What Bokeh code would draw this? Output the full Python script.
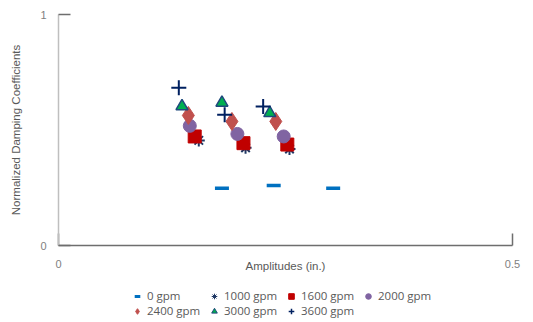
from bokeh.plotting import figure
from bokeh.layouts import column
from bokeh.models import Range1d, FixedTicker, Legend, LegendItem
from bokeh.embed import file_html
from bokeh.resources import INLINE

# Data
amp_0 = [0.180, 0.237, 0.3025]
coef_0 = [0.248, 0.260, 0.248]
amp_1000 = [0.1545, 0.206, 0.2544]
coef_1000 = [0.455, 0.423, 0.418]
amp_1600 = [0.150, 0.2037, 0.252]
coef_1600 = [0.472, 0.443, 0.437]
amp_2000 = [0.1446, 0.197, 0.248]
coef_2000 = [0.518, 0.483, 0.472]
amp_2400 = [0.143, 0.191, 0.2393]
coef_2400 = [0.563, 0.537, 0.537]
amp_3000 = [0.136, 0.180, 0.2327]
coef_3000 = [0.603, 0.618, 0.573]
amp_3600 = [0.1325, 0.183, 0.2254]
coef_3600 = [0.683, 0.566, 0.602]

series_names = ["0 gpm", "1000 gpm", "1600 gpm", "2000 gpm", "2400 gpm", "3000 gpm", "3600 gpm"]
x_ticks = [0, 0.5]
y_ticks = [0, 1]

styles = [
    dict(marker="dash", size=14, line_color="#0070C0", line_width=3.5),
    dict(marker="asterisk", size=12, line_color="#1F3864", line_width=2),
    dict(marker="square", size=13, fill_color="#C00000", line_color="#C00000"),
    dict(marker="circle", size=13, fill_color="#8064A2", line_color="#8064A2"),
    dict(marker="diamond", size=18, fill_color="#C0504D", line_color="#C0504D"),
    dict(marker="triangle", size=12, fill_color="#00B050", line_color="#1F497D", line_width=1.5),
    dict(marker="cross", size=15, line_color="#002060", line_width=2),
]
legend_styles = [
    dict(marker="dash", size=10, line_color="#0070C0", line_width=3),
    dict(marker="asterisk", size=10, line_color="#1F3864", line_width=1),
    dict(marker="square", size=10, fill_color="#C00000", line_color="#C00000"),
    dict(marker="circle", size=10, fill_color="#8064A2", line_color="#8064A2"),
    dict(marker="diamond", size=13, fill_color="#C0504D", line_color="#C0504D"),
    dict(marker="triangle", size=10, fill_color="#00B050", line_color="#1F497D", line_width=1),
    dict(marker="cross", size=11, line_color="#002060", line_width=1.5),
]

p = figure(width=533, height=280, output_backend="svg", toolbar_location=None,
           x_range=Range1d(0, 0.5), y_range=Range1d(0, 1))
p.min_border_left = 58
p.min_border_right = 21
p.min_border_top = 14
p.min_border_bottom = 35
p.outline_line_color = None
p.xgrid.visible = False
p.ygrid.visible = False

font = "Liberation Sans"
for ax in (p.xaxis[0], p.yaxis[0]):
    ax.major_label_text_font = font
    ax.major_label_text_font_size = "11px"
    ax.major_label_text_color = "#7f7f7f"
    ax.axis_label_text_font = font
    ax.axis_label_text_font_size = "11.5px"
    ax.axis_label_text_font_style = "normal"
    ax.axis_label_text_color = "#595959"
    ax.minor_tick_line_color = None
    ax.major_tick_out = 0
    ax.major_tick_in = 12
    ax.major_tick_line_color = "#6e6e6e"
    ax.major_tick_line_width = 1.5

p.xaxis.ticker = FixedTicker(ticks=x_ticks)
p.yaxis.ticker = FixedTicker(ticks=y_ticks)
p.xaxis.major_label_overrides = {0: "0", 0.5: "0.5"}
p.yaxis.major_label_overrides = {0: "0", 1: "1"}
p.xaxis.axis_label = "Amplitudes (in.)"
p.yaxis.axis_label = "Normalized Damping Coefficients"
p.xaxis.axis_line_color = "#6e6e6e"
p.xaxis.axis_line_width = 1.5
p.yaxis.axis_line_color = "#bfbfbf"
p.yaxis.axis_line_width = 1.5
p.xaxis.major_label_standoff = 14
p.xaxis.axis_label_standoff = -11
p.yaxis.major_label_standoff = 12
p.yaxis.axis_label_standoff = 15

series = [(amp_0, coef_0), (amp_1000, coef_1000), (amp_1600, coef_1600), (amp_2000, coef_2000),
          (amp_2400, coef_2400), (amp_3000, coef_3000), (amp_3600, coef_3600)]
for (xs, ys), st in zip(series, styles):
    p.scatter(xs, ys, **st)

# Legend in a separate strip below the chart; its renderers carry the series data
# but the strip's ranges keep those points out of view, so only the legend shows.
lg = figure(width=533, height=42, output_backend="svg", toolbar_location=None,
            x_range=Range1d(10, 11), y_range=Range1d(10, 11),
            x_axis_location=None, y_axis_location=None, min_border=0)
lg.outline_line_color = None
lg.xgrid.visible = False
lg.ygrid.visible = False
proxies = [lg.scatter(xs, ys, **st) for (xs, ys), st in zip(series, legend_styles)]
items = [LegendItem(label=n, renderers=[r]) for n, r in zip(series_names, proxies)]
legend = Legend(items=items, orientation="horizontal", ncols=4, location=(72, 4),
                label_text_font="Open Sans", label_text_font_size="11.5px", label_text_color="#595959",
                glyph_width=14, glyph_height=14, label_standoff=3, spacing=0,
                label_width=60, label_height=12, padding=0, margin=0, border_line_color=None,
                background_fill_alpha=0)
lg.add_layout(legend, "center")

layout = column(p, lg, spacing=0)
open("out.html", "w").write(file_html(layout, INLINE))
